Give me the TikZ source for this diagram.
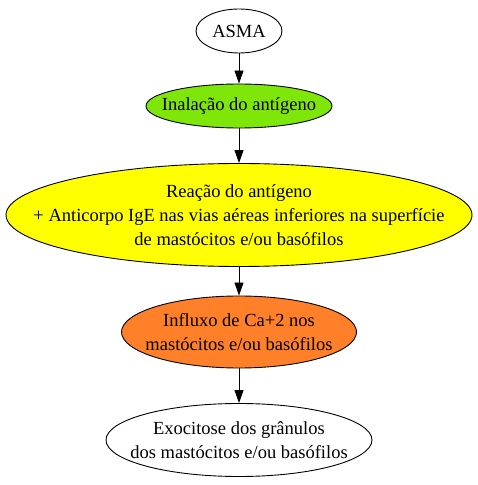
\documentclass[tikz,border=0pt]{standalone}
\usepackage{fontspec}
\setmainfont{Liberation Serif}
\usetikzlibrary{shapes.geometric,arrows.meta}
\definecolor{cgreen}{HTML}{7FE60A}
\definecolor{cyellow}{HTML}{FFFF00}
\definecolor{corange}{HTML}{FF8028}
\tikzset{
  ell/.style={ellipse,draw=black,line width=0.9pt,inner sep=0pt},
  txt/.style={align=center,inner sep=0pt,font=\fontsize{18.5}{24}\selectfont},
  conn/.style={-{Triangle[length=13pt,width=9pt]},line width=0.9pt}
}
\begin{document}
\begin{tikzpicture}[x=1pt,y=1pt]
\useasboundingbox (0,0) rectangle (477,485);
\node[ell,minimum width=86pt,minimum height=44pt,label={[txt]center:ASMA}] (asma) at (239,454) {};
\node[ell,fill=cgreen,minimum width=186pt,minimum height=44pt,label={[txt]center:Inalação do antígeno}] (inal) at (239,379) {};
\node[ell,fill=cyellow,minimum width=466pt,minimum height=103pt,label={[txt]center:{Reação do antígeno\\+ Anticorpo IgE nas vias aéreas inferiores na superfície\\de mastócitos e/ou basófilos}}] (reac) at (239,270) {};
\node[ell,fill=corange,minimum width=235pt,minimum height=72pt,label={[txt]center:{Influxo de Ca+2 nos\\mastócitos e/ou basófilos}}] (infl) at (239,153) {};
\node[ell,minimum width=266pt,minimum height=73pt,label={[txt]center:{Exocitose dos grânulos\\dos mastócitos e/ou basófilos}}] (exoc) at (239,45) {};
\draw[conn] (asma) -- (inal);
\draw[conn] (inal) -- (reac);
\draw[conn] (reac) -- (infl);
\draw[conn] (infl) -- (exoc);
\end{tikzpicture}
\end{document}
